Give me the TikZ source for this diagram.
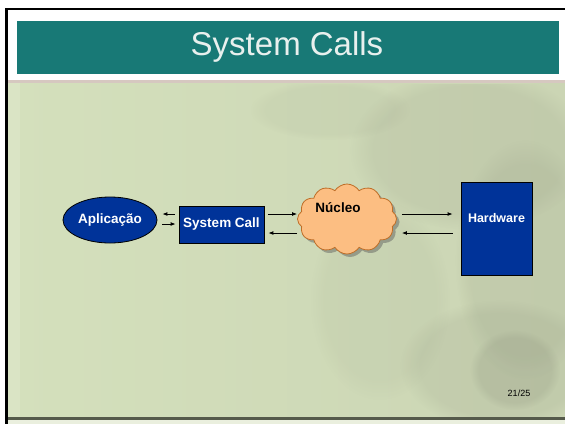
\documentclass[tikz,border=0pt]{standalone}
\usepackage{fontspec}
\setmainfont{Liberation Sans}
\usetikzlibrary{shapes.symbols,shapes.geometric,shadows,arrows.meta,calc,fadings}

\definecolor{slidegreen}{RGB}{212,224,188}
\definecolor{slidegreenR}{RGB}{203,213,180}
\definecolor{titleteal}{RGB}{24,121,118}
\definecolor{titletext}{RGB}{232,240,238}
\definecolor{boxblue}{RGB}{0,51,153}
\definecolor{cloudfill}{RGB}{252,190,130}
\definecolor{clouddraw}{RGB}{190,110,40}
\definecolor{stripe}{RGB}{214,200,192}
\definecolor{haze}{RGB}{140,146,124}

\tikzset{
  bluebox/.style={draw=black, line width=0.8pt, fill=boxblue, text=white,
    font=\bfseries\fontsize{13.5}{14}\selectfont, inner sep=0pt},
  appshape/.style={ellipse, draw=black, line width=0.8pt, fill=boxblue, text=white,
    font=\bfseries\fontsize{13.5}{14}\selectfont, inner sep=0pt,
    minimum width=94pt, minimum height=46pt},
  kernelcloud/.style={cloud, cloud puffs=12, cloud puff arc=115, aspect=1.45,
    draw=clouddraw, line width=0.8pt, fill=cloudfill, inner sep=0pt,
    minimum width=99pt, minimum height=70pt,
    drop shadow={shadow xshift=3pt, shadow yshift=-3pt, opacity=0.45, fill=gray!70!black}},
  link/.style={line width=0.9pt, -{Latex[length=5pt,width=4pt]}},
  haze blob/.style={fill=haze, opacity=0.15, path fading=circle with fuzzy edge 20 percent}
}

\begin{document}
\begin{tikzpicture}[x=1pt,y=-1pt]
  \useasboundingbox (0,0) rectangle (565,424);

  % slide background
  \fill[white] (0,0) rectangle (565,424);
  \shade[left color=slidegreen, right color=slidegreenR] (8,82) rectangle (565,418);
  \fill[white, opacity=0.15] (8,82) rectangle (20,418);

  % faint photograph in the background
  \begin{scope}
    \clip (8,84) rectangle (565,418);
    \fill[haze blob] (470,150) ellipse (120 and 80);
    \fill[haze blob] (525,260) ellipse (70 and 120);
    \fill[haze blob] (500,365) ellipse (100 and 65);
    \fill[haze blob, opacity=0.22] (515,370) ellipse (45 and 40);
    \fill[haze blob, opacity=0.08] (380,300) ellipse (70 and 100);
    \fill[haze blob, opacity=0.08] (330,110) ellipse (80 and 30);
  \end{scope}

  % thin band under the title
  \fill[stripe] (8,80) rectangle (565,83);

  % bottom edge
  \fill[black!60!slidegreen] (8,417) rectangle (565,420);
  \fill[slidegreen!50!white] (8,420) rectangle (565,424);

  % frame
  \fill[black] (5,8) rectangle (565,10);
  \fill[black] (5,8) rectangle (7.5,424);

  % title bar
  \fill[titleteal] (17,21) rectangle (559,74);
  \node (title) [text=titletext, font=\fontsize{33}{34}\selectfont] at (287,47) {System Calls};

  % diagram
  \node (app) [appshape] at (110,220) {Aplica\c{c}\~ao};
  \node (sc) [bluebox, minimum width=85pt, minimum height=37pt] at (221.5,224.5) {System Call};
  \node (nuc) [kernelcloud] at (347,219) {};
  \node (nuctext) [font=\bfseries\fontsize{13.5}{14}\selectfont] at (338,208) {N\'ucleo};
  \node (hw) [bluebox, minimum width=71pt, minimum height=93pt] at (496.5,229) {};
  \node (hwtext) [text=white, font=\bfseries\fontsize{12.5}{13}\selectfont] at (496.5,218) {Hardware};

  % connectors
  \draw[link] ($(sc.west)+(-4,-10.5)$) -- ($(app.east)+(5,-6)$);
  \draw[link] ($(app.east)+(5,4)$) -- ($(sc.west)+(-3,-0.5)$);
  \draw[link] ($(sc.east)+(4,-10.5)$) -- ($(nuc.west)+(0,-5)$);
  \draw[link] ($(nuc.west)+(0,14)$) -- ($(sc.east)+(4,8.5)$);
  \draw[link] ($(nuc.east)+(5,-5)$) -- ($(hw.west)+(-8,-15)$);
  \draw[link] ($(hw.west)+(-8,4)$) -- ($(nuc.east)+(5,14)$);

  % page number
  \node (page) [font=\fontsize{9}{10}\selectfont] at (519,393) {21/25};
\end{tikzpicture}
\end{document}
